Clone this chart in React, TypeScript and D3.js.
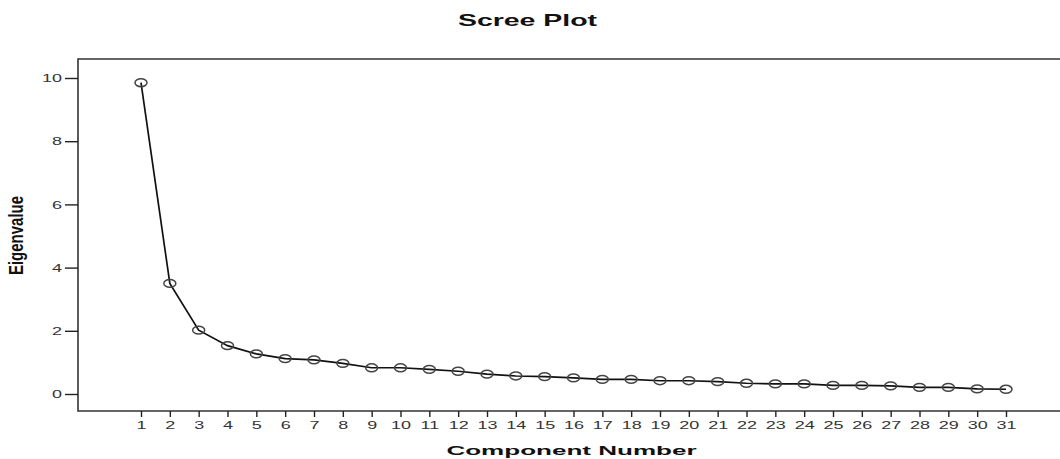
import React, { useEffect, useRef } from "react";
import * as d3 from "d3";

// Eigenvalues, one per component
const components = d3.range(1, 32);
const eigenvalues = [
  9.85, 3.5, 2.02, 1.53, 1.27, 1.12, 1.08, 0.97, 0.83, 0.83,
  0.78, 0.72, 0.63, 0.57, 0.55, 0.51, 0.46, 0.46, 0.42, 0.42,
  0.39, 0.34, 0.32, 0.32, 0.27, 0.27, 0.26, 0.21, 0.21, 0.16, 0.15,
];
const yTicks = [0, 2, 4, 6, 8, 10];

const FONT = "'Liberation Sans', Arial, Helvetica, sans-serif";
const INK = "#222";

const ScreePlot = () => {
  const svgRef = useRef(null);

  useEffect(() => {
    const W = 1060,
      H = 459;
    const frame = { left: 78, top: 59, bottom: 411, right: 1062 };

    const svg = d3.select(svgRef.current);
    svg.selectAll("*").remove();
    svg.attr("width", W).attr("height", H);

    const x = d3.scaleLinear().domain([1, 31]).range([141, 1006]);
    const y = d3.scaleLinear().domain([0, 10]).range([394, 78]);

    // Frame (top, left, bottom)
    svg
      .append("path")
      .attr(
        "d",
        `M${frame.right},${frame.top}H${frame.left}V${frame.bottom}H${frame.right}`
      )
      .attr("fill", "none")
      .attr("stroke", "#333")
      .attr("stroke-width", 1.6);

    // Y axis
    const yAxis = svg
      .append("g")
      .attr("transform", `translate(${frame.left},0)`)
      .call(d3.axisLeft(y).tickValues(yTicks).tickSize(13).tickSizeOuter(0));
    yAxis.select(".domain").remove();
    yAxis.selectAll("line").attr("stroke", INK).attr("stroke-width", 1.4);
    yAxis
      .selectAll("text")
      .attr("x", null)
      .attr("dy", null)
      .attr("transform", "translate(-16,3.6) scale(1.8,1)")
      .attr("text-anchor", "end")
      .attr("fill", "#333")
      .style("font", `10px ${FONT}`);

    // X axis
    const xAxis = svg
      .append("g")
      .attr("transform", `translate(0,${frame.bottom})`)
      .call(d3.axisBottom(x).tickValues(components).tickFormat(d3.format("d")).tickSize(6).tickSizeOuter(0));
    xAxis.select(".domain").remove();
    xAxis.selectAll("line").attr("stroke", INK).attr("stroke-width", 1.4);
    xAxis
      .selectAll("text")
      .attr("y", null)
      .attr("dy", null)
      .attr("transform", "translate(0,18) scale(1.8,1)")
      .attr("fill", "#333")
      .style("font", `10px ${FONT}`);

    // Line
    const line = d3
      .line()
      .x((d, i) => x(components[i]))
      .y((d) => y(d));
    svg
      .append("path")
      .datum(eigenvalues)
      .attr("d", line)
      .attr("fill", "none")
      .attr("stroke", "#111")
      .attr("stroke-width", 1.7);

    // Markers
    svg
      .append("g")
      .selectAll("ellipse")
      .data(eigenvalues)
      .join("ellipse")
      .attr("cx", (d, i) => x(components[i]))
      .attr("cy", (d) => y(d))
      .attr("rx", 6)
      .attr("ry", 3.9)
      .attr("fill", "none")
      .attr("stroke", "#444")
      .attr("stroke-width", 1.5);

    // Title
    svg
      .append("text")
      .attr("transform", "translate(527.5,25.5) scale(1.78,1)")
      .attr("text-anchor", "middle")
      .attr("fill", "#111")
      .style("font", `bold 16px ${FONT}`)
      .text("Scree Plot");

    // X axis label
    svg
      .append("text")
      .attr("transform", "translate(571.5,454.5) scale(1.93,1)")
      .attr("text-anchor", "middle")
      .attr("fill", "#111")
      .style("font", `bold 13.5px ${FONT}`)
      .text("Component Number");

    // Y axis label
    svg
      .append("text")
      .attr("transform", "translate(23,235.5) rotate(-90) scale(1,1.35)")
      .attr("text-anchor", "middle")
      .attr("fill", "#111")
      .style("font", `bold 15px ${FONT}`)
      .text("Eigenvalue");
  }, []);

  return (
    <svg
      ref={svgRef}
      style={{ position: "absolute", left: 0, top: 0, display: "block", background: "#fff" }}
    ></svg>
  );
};

export default function App() {
  return <ScreePlot />;
}
